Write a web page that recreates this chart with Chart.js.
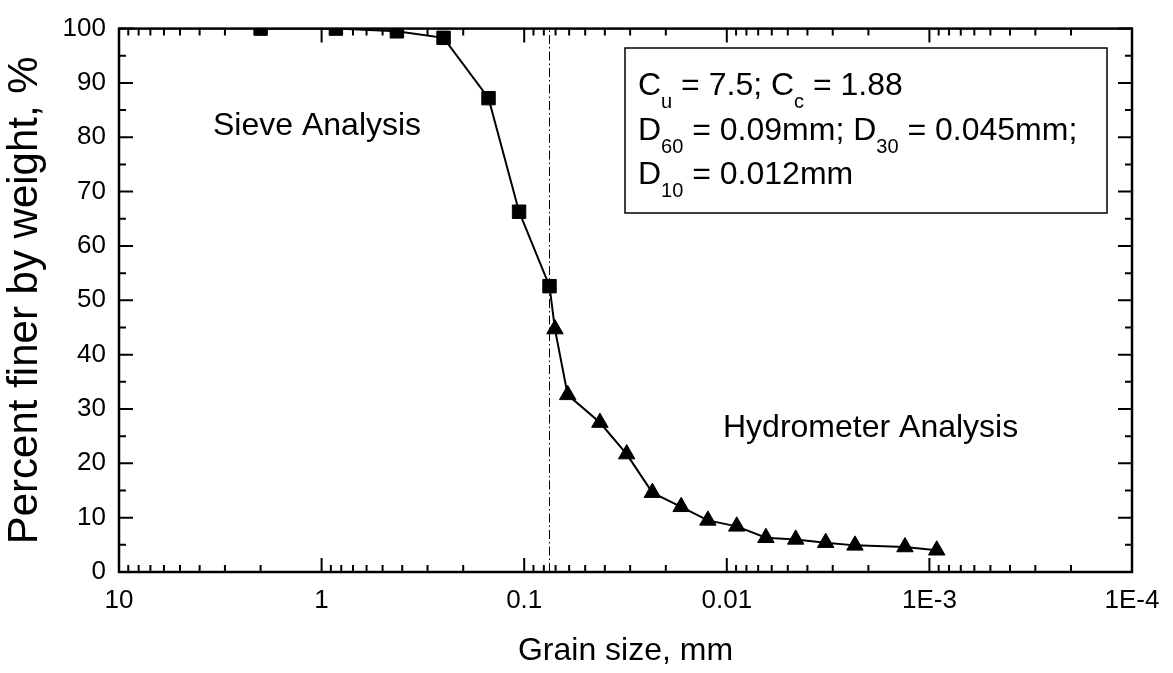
<!DOCTYPE html>
<html>
<head>
<meta charset="utf-8">
<script src="https://cdn.jsdelivr.net/npm/chart.js@4.4.1/dist/chart.umd.min.js"></script>
<style>
  html, body { margin: 0; padding: 0; background: #fff; }
</style>
</head>
<body>
<canvas id="gradation" width="1173" height="673"></canvas>
<script>
// Sieve analysis (squares)
const sieveSize = [2.0, 0.85, 0.425, 0.25, 0.15, 0.106, 0.075];
const sievePassing = [100, 100, 99.5, 98.3, 87.2, 66.3, 52.6];

// Hydrometer analysis (triangles)
const hydroSize = [0.0705, 0.0610, 0.0423, 0.0312, 0.0233, 0.0168, 0.0124, 0.00893,
                   0.00641, 0.00457, 0.00325, 0.00233, 0.00132, 0.00092];
const hydroPassing = [44.7, 32.6, 27.5, 21.7, 14.6, 12.0, 9.5, 8.4, 6.3, 6.0, 5.4, 4.9, 4.6, 4.0];

// vertical dash-dot line at the sieve / hydrometer split
const splitSize = 0.075;

// axis ticks
const xDecades = [10, 1, 0.1, 0.01, 0.001, 0.0001];
const xDecadeLabels = ['10', '1', '0.1', '0.01', '1E-3', '1E-4'];
const yRange = [0, 100];

// text in the box
const boxLines = [
    [['C', 0], ['u', 1], [' = 7.5; C', 0], ['c', 1], [' = 1.88', 0]],
    [['D', 0], ['60', 1], [' = 0.09mm; D', 0], ['30', 1], [' = 0.045mm;', 0]],
    [['D', 0], ['10', 1], [' = 0.012mm', 0]]
];

const family = "'Liberation Sans', Arial, Helvetica, sans-serif";
Chart.defaults.font.family = family;
Chart.defaults.color = '#000';

// ticks on the log axis: decades plus 2..9 inside each decade
const xTicks = [];
xDecades.forEach((d, i) => {
    xTicks.push({ value: d, major: true, label: xDecadeLabels[i] });
    if (d < 10) {
        for (let m = 2; m <= 9; m++) xTicks.push({ value: d * m, major: false, label: '' });
    }
});

const points = sieveSize.map((s, i) => ({ x: s, y: sievePassing[i] }))
    .concat(hydroSize.map((s, i) => ({ x: s, y: hydroPassing[i] })));
const styles = sieveSize.map(() => 'rect').concat(hydroSize.map(() => 'triangle'));

// frame with inward ticks on all four sides
const frameTicks = {
    id: 'frameTicks',
    afterDraw(chart) {
        const { ctx, chartArea: a, scales: { x, y } } = chart;
        ctx.save();
        ctx.strokeStyle = '#000';
        ctx.lineWidth = 2;
        ctx.beginPath();
        x.ticks.forEach(t => {
            const px = x.getPixelForValue(t.value);
            const len = t.major ? 14 : 7;
            ctx.moveTo(px, a.bottom); ctx.lineTo(px, a.bottom - len);
            ctx.moveTo(px, a.top); ctx.lineTo(px, a.top + len);
        });
        y.ticks.forEach(t => {
            const py = y.getPixelForValue(t.value);
            const len = t.value % 10 === 0 ? 14 : 7;
            ctx.moveTo(a.left, py); ctx.lineTo(a.left + len, py);
            ctx.moveTo(a.right, py); ctx.lineTo(a.right - len, py);
        });
        ctx.stroke();
        ctx.lineWidth = 2.5;
        ctx.strokeRect(a.left, a.top, a.right - a.left, a.bottom - a.top);
        ctx.restore();
    }
};

// text labels and the parameter box
const notes = {
    id: 'notes',
    afterDraw(chart) {
        const ctx = chart.ctx;
        ctx.save();
        ctx.fillStyle = '#000';
        ctx.textBaseline = 'alphabetic';
        ctx.textAlign = 'left';
        ctx.font = '32px ' + family;
        ctx.fillText('Sieve Analysis', 213, 135);
        ctx.fillText('Hydrometer Analysis', 723, 437);

        ctx.lineWidth = 1.5;
        ctx.strokeStyle = '#000';
        ctx.strokeRect(625, 48, 482, 165);
        boxLines.forEach((segs, i) => {
            let cx = 638;
            const base = 95 + i * 44.5;
            segs.forEach(([txt, sub]) => {
                ctx.font = (sub ? 20 : 32) + 'px ' + family;
                ctx.fillText(txt, cx, sub ? base + 13 : base);
                cx += ctx.measureText(txt).width;
            });
        });
        ctx.restore();
    }
};

new Chart(document.getElementById('gradation').getContext('2d'), {
    type: 'line',
    data: {
        datasets: [
            {
                data: points,
                borderColor: '#000',
                borderWidth: 2,
                backgroundColor: '#000',
                pointStyle: styles,
                pointRadius: 9.5,
                pointBorderWidth: 1,
                pointBackgroundColor: '#000',
                tension: 0,
                order: 1
            },
            {
                data: [{ x: splitSize, y: yRange[0] }, { x: splitSize, y: yRange[1] }],
                borderColor: '#000',
                borderWidth: 1,
                borderDash: [9, 3, 1.5, 3],
                pointRadius: 0,
                order: 2
            }
        ]
    },
    options: {
        responsive: false,
        animation: false,
        layout: { padding: { top: 21, right: 41, left: 0, bottom: 0 } },
        plugins: {
            legend: { display: false },
            tooltip: { enabled: false }
        },
        scales: {
            x: {
                type: 'logarithmic',
                reverse: true,
                min: 0.0001,
                max: 10,
                afterBuildTicks: s => { s.ticks = xTicks.map(t => ({ value: t.value, major: t.major, label: t.label })); },
                afterFit: s => { s.height = 101; },
                grid: { display: false, drawTicks: false },
                border: { display: false },
                ticks: {
                    autoSkip: false,
                    maxRotation: 0,
                    padding: 13,
                    font: { size: 26 },
                    color: '#000',
                    callback: (v, i) => xTicks[i].label
                },
                title: {
                    display: true,
                    text: 'Grain size, mm',
                    font: { size: 32 },
                    color: '#000',
                    padding: { top: 0, bottom: 3 }
                }
            },
            y: {
                min: yRange[0],
                max: yRange[1],
                afterFit: s => { s.width = 119; },
                grid: { display: false, drawTicks: false },
                border: { display: false },
                ticks: {
                    autoSkip: false,
                    stepSize: 5,
                    padding: 13,
                    font: { size: 26 },
                    color: '#000',
                    callback: v => (v % 10 === 0 ? v : '')
                },
                title: {
                    display: true,
                    text: 'Percent finer by weight, %',
                    font: { size: 42 },
                    color: '#000',
                    padding: { top: 0, bottom: 0 }
                }
            }
        }
    },
    plugins: [frameTicks, notes]
});
</script>
</body>
</html>
